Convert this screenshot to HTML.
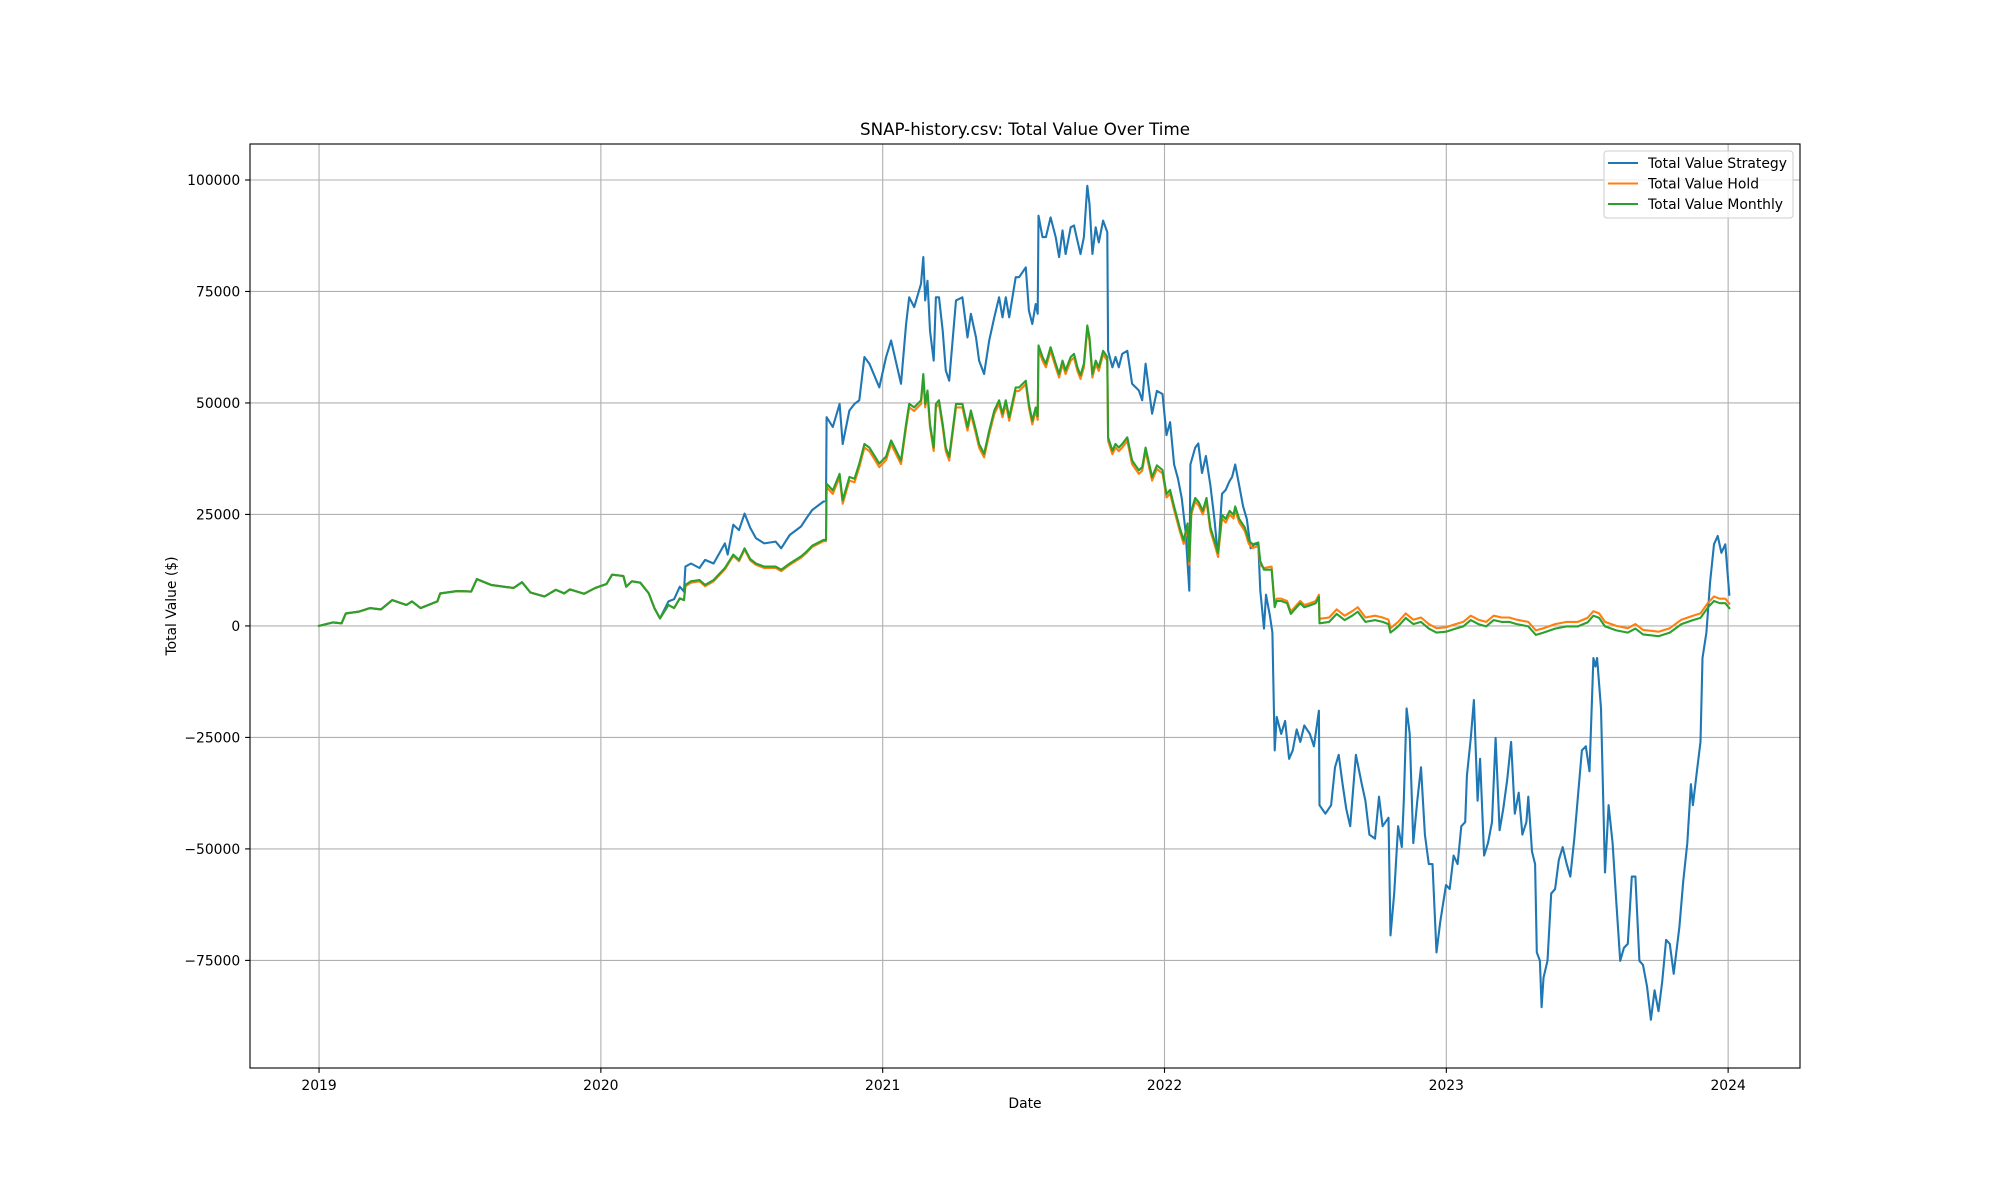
<!DOCTYPE html>
<html><head><meta charset="utf-8"><style>
html,body{margin:0;padding:0;background:#fff;}
svg{display:block;font-family:"DejaVu Sans","Liberation Sans",sans-serif;}
</style></head><body>
<svg id="chart" width="2000" height="1200" viewBox="0 0 2000 1200" xmlns="http://www.w3.org/2000/svg">
<rect x="0" y="0" width="2000" height="1200" fill="#fff"/>
<g id="grid"></g>
<g id="series"></g>
<rect x="250" y="144" width="1550" height="924" fill="none" stroke="#000" stroke-width="1.1"/>
<g id="ticks"></g>
<text x="1025" y="135" font-size="16.7" text-anchor="middle">SNAP-history.csv: Total Value Over Time</text>
<text x="1025" y="1108" font-size="13.9" text-anchor="middle">Date</text>
<text x="176" y="606" font-size="13.9" text-anchor="middle" transform="rotate(-90 176 606)">Total Value ($)</text>
<g>
<rect x="1604" y="151" width="189" height="67" rx="3" fill="#fff" fill-opacity="0.8" stroke="#ccc" stroke-width="1"/>
<g><line x1="1608" y1="163" x2="1638" y2="163" stroke="#1f77b4" stroke-width="2.1"/><text x="1648" y="168" font-size="13.9">Total Value Strategy</text></g>
<g><line x1="1608" y1="183.5" x2="1638" y2="183.5" stroke="#ff7f0e" stroke-width="2.1"/><text x="1648" y="188.5" font-size="13.9">Total Value Hold</text></g>
<g><line x1="1608" y1="204" x2="1638" y2="204" stroke="#2ca02c" stroke-width="2.1"/><text x="1648" y="209" font-size="13.9">Total Value Monthly</text></g>
</g>
</svg>
<script>
const xTickLabels = ["2019","2020","2021","2022","2023","2024"];
const xTickValues = [2019,2020,2021,2022,2023,2024];
const yTickValues = [-75000,-50000,-25000,0,25000,50000,75000,100000];
const yTickLabels = ["\u221275000","\u221250000","\u221225000","0","25000","50000","75000","100000"];

const monthlyDates = [2019.0,2019.05,2019.08,2019.095,2019.14,2019.18,2019.22,2019.26,2019.31,2019.33,2019.36,2019.42,2019.43,2019.49,2019.54,2019.56,2019.61,2019.69,2019.72,2019.75,2019.80,2019.84,2019.87,2019.89,2019.94,2019.98,2020.02,2020.04,2020.08,2020.09,2020.11,2020.14,2020.17,2020.19,2020.21,2020.24,2020.26,2020.28,2020.295,2020.30,2020.32,2020.35,2020.37,2020.40,2020.44,2020.47,2020.49,2020.51,2020.53,2020.55,2020.58,2020.62,2020.64,2020.67,2020.71,2020.73,2020.75,2020.79,2020.799,2020.801,2020.823,2020.847,2020.858,2020.882,2020.90,2020.917,2020.935,2020.953,2020.988,2021.012,2021.03,2021.065,2021.083,2021.094,2021.112,2021.136,2021.144,2021.151,2021.159,2021.168,2021.181,2021.189,2021.20,2021.213,2021.224,2021.236,2021.26,2021.283,2021.301,2021.313,2021.331,2021.342,2021.36,2021.378,2021.396,2021.413,2021.425,2021.437,2021.449,2021.472,2021.484,2021.508,2021.519,2021.531,2021.543,2021.550,2021.553,2021.567,2021.579,2021.596,2021.614,2021.626,2021.638,2021.649,2021.667,2021.679,2021.691,2021.702,2021.714,2021.726,2021.734,2021.744,2021.756,2021.767,2021.782,2021.797,2021.80,2021.815,2021.826,2021.838,2021.85,2021.868,2021.885,2021.909,2021.921,2021.933,2021.956,2021.973,2021.993,2022.007,2022.02,2022.034,2022.054,2022.068,2022.082,2022.088,2022.095,2022.109,2022.122,2022.136,2022.149,2022.163,2022.177,2022.19,2022.204,2022.217,2022.231,2022.245,2022.251,2022.265,2022.285,2022.299,2022.313,2022.333,2022.34,2022.353,2022.38,2022.391,2022.398,2022.414,2022.435,2022.448,2022.469,2022.482,2022.496,2022.516,2022.537,2022.548,2022.55,2022.584,2022.611,2022.639,2022.666,2022.686,2022.713,2022.747,2022.774,2022.795,2022.802,2022.829,2022.856,2022.883,2022.91,2022.938,2022.965,2022.999,2023.033,2023.06,2023.087,2023.114,2023.141,2023.168,2023.196,2023.223,2023.25,2023.291,2023.318,2023.345,2023.386,2023.427,2023.467,2023.501,2023.522,2023.542,2023.563,2023.603,2023.644,2023.671,2023.698,2023.753,2023.793,2023.834,2023.875,2023.902,2023.929,2023.95,2023.97,2023.99,2024.004];
const monthlyValues = [0,800,600,2800,3200,4000,3700,5800,4700,5500,4000,5500,7300,7800,7700,10500,9200,8500,9800,7500,6600,8100,7300,8200,7200,8500,9400,11500,11200,8800,10000,9700,7300,4000,1700,4700,4000,6200,5800,9200,10000,10300,9200,10300,13000,16000,14800,17400,15000,14000,13300,13300,12600,14000,15600,16700,18000,19300,19300,31900,30400,34100,28200,33400,33000,36400,40800,40000,36400,38000,41600,37100,45300,49800,49000,50600,56500,49800,52800,45300,40000,49800,50600,45300,40000,37900,49800,49800,44600,48300,43800,40800,38600,43800,48300,50600,47600,50600,46800,53500,53500,55000,49800,46000,49000,47000,62900,60300,58800,62500,58800,56500,59500,57300,60300,61000,58000,56200,58800,67400,64700,56500,59500,58000,61700,60300,42300,39300,40800,40000,40800,42300,37100,34900,35600,40000,33400,36000,35000,29600,30500,26800,22100,19200,23000,14500,25800,28700,27700,25800,28700,22100,19200,16400,24900,24000,25800,24900,26800,24000,22100,19200,18300,18700,14500,12600,12600,4200,5600,5600,5100,2700,4200,5100,4200,4600,5100,6500,600,900,2700,1300,2300,3200,900,1300,900,400,-1500,-100,1800,400,900,-600,-1500,-1300,-600,-100,1300,400,-100,1300,900,900,400,-100,-2000,-1500,-600,-100,-100,800,2300,1800,-100,-1000,-1500,-600,-1900,-2300,-1500,400,1300,1800,4200,5600,5100,5100,4000];

const holdDates = [2019.0,2019.05,2019.08,2019.095,2019.14,2019.18,2019.22,2019.26,2019.31,2019.33,2019.36,2019.42,2019.43,2019.49,2019.54,2019.56,2019.61,2019.69,2019.72,2019.75,2019.80,2019.84,2019.87,2019.89,2019.94,2019.98,2020.02,2020.04,2020.08,2020.09,2020.11,2020.14,2020.17,2020.19,2020.21,2020.24,2020.26,2020.28,2020.295,2020.30,2020.32,2020.35,2020.37,2020.40,2020.44,2020.47,2020.49,2020.51,2020.53,2020.55,2020.58,2020.62,2020.64,2020.67,2020.71,2020.73,2020.75,2020.79,2020.799,2020.801,2020.823,2020.847,2020.858,2020.882,2020.90,2020.917,2020.935,2020.953,2020.988,2021.012,2021.03,2021.065,2021.083,2021.094,2021.112,2021.136,2021.144,2021.151,2021.159,2021.168,2021.181,2021.189,2021.20,2021.213,2021.224,2021.236,2021.26,2021.283,2021.301,2021.313,2021.331,2021.342,2021.36,2021.378,2021.396,2021.413,2021.425,2021.437,2021.449,2021.472,2021.484,2021.508,2021.519,2021.531,2021.543,2021.550,2021.553,2021.567,2021.579,2021.596,2021.614,2021.626,2021.638,2021.649,2021.667,2021.679,2021.691,2021.702,2021.714,2021.726,2021.734,2021.744,2021.756,2021.767,2021.782,2021.797,2021.80,2021.815,2021.826,2021.838,2021.85,2021.868,2021.885,2021.909,2021.921,2021.933,2021.956,2021.973,2021.993,2022.007,2022.02,2022.034,2022.054,2022.068,2022.082,2022.088,2022.095,2022.109,2022.122,2022.136,2022.149,2022.163,2022.177,2022.19,2022.204,2022.217,2022.231,2022.245,2022.251,2022.265,2022.285,2022.299,2022.313,2022.333,2022.34,2022.353,2022.38,2022.391,2022.398,2022.414,2022.435,2022.448,2022.469,2022.482,2022.496,2022.516,2022.537,2022.548,2022.55,2022.584,2022.611,2022.639,2022.666,2022.686,2022.713,2022.747,2022.774,2022.795,2022.802,2022.829,2022.856,2022.883,2022.91,2022.938,2022.965,2022.999,2023.033,2023.06,2023.087,2023.114,2023.141,2023.168,2023.196,2023.223,2023.25,2023.291,2023.318,2023.345,2023.386,2023.427,2023.467,2023.501,2023.522,2023.542,2023.563,2023.603,2023.644,2023.671,2023.698,2023.753,2023.793,2023.834,2023.875,2023.902,2023.929,2023.95,2023.97,2023.99,2024.004];
const holdValues = [0,800,600,2800,3200,4000,3700,5800,4700,5500,4000,5500,7300,7800,7700,10500,9200,8500,9800,7500,6600,8100,7300,8200,7200,8500,9400,11500,11200,8800,10000,9700,7300,4000,1700,4700,4000,6200,5800,8900,9700,10000,8900,10000,12700,15700,14500,17100,14700,13700,13000,13000,12300,13700,15300,16400,17700,19000,19000,31100,29600,33300,27400,32600,32200,35600,40000,39200,35600,37200,40800,36300,44500,49000,48200,49800,55700,49000,52000,44500,39200,49000,49800,44500,39200,37100,49000,49000,43800,47500,43000,40000,37800,43000,47500,49800,46800,49800,46000,52700,52700,54200,49000,45200,48200,46200,62100,59500,58000,61700,58000,55700,58700,56500,59500,60200,57200,55400,58000,66600,63900,55700,58700,57200,60900,59500,41500,38500,40000,39200,40000,41500,36300,34100,34800,39200,32600,35200,34200,28800,29700,26000,21300,18400,22200,13700,25000,27900,26900,25000,27900,21300,18400,15600,24100,23200,25000,24100,26000,23200,21300,18400,17500,17900,13700,13000,13300,4700,6100,6100,5600,3200,4700,5600,4700,5100,5600,7000,1600,1900,3700,2300,3300,4200,1900,2300,1900,1400,-500,900,2800,1400,1900,400,-500,-300,400,900,2300,1400,900,2300,1900,1900,1400,900,-1000,-500,400,900,900,1800,3300,2800,900,0,-500,400,-900,-1300,-500,1400,2300,2800,5200,6600,6100,6100,5000];

const strategyDates = [2019.0,2019.05,2019.08,2019.095,2019.14,2019.18,2019.22,2019.26,2019.31,2019.33,2019.36,2019.42,2019.43,2019.49,2019.54,2019.56,2019.61,2019.69,2019.72,2019.75,2019.80,2019.84,2019.87,2019.89,2019.94,2019.98,2020.02,2020.04,2020.08,2020.09,2020.11,2020.14,2020.17,2020.19,2020.21,2020.24,2020.26,2020.28,2020.295,2020.30,2020.32,2020.35,2020.37,2020.40,2020.44,2020.45,2020.47,2020.49,2020.51,2020.53,2020.55,2020.58,2020.62,2020.64,2020.67,2020.71,2020.73,2020.75,2020.79,2020.799,2020.801,2020.823,2020.847,2020.858,2020.882,2020.90,2020.917,2020.935,2020.953,2020.988,2021.012,2021.03,2021.065,2021.083,2021.094,2021.112,2021.136,2021.144,2021.151,2021.159,2021.168,2021.181,2021.189,2021.20,2021.213,2021.224,2021.236,2021.26,2021.283,2021.301,2021.313,2021.331,2021.342,2021.36,2021.378,2021.396,2021.413,2021.425,2021.437,2021.449,2021.472,2021.484,2021.508,2021.519,2021.531,2021.543,2021.550,2021.553,2021.567,2021.579,2021.596,2021.614,2021.626,2021.638,2021.649,2021.667,2021.679,2021.691,2021.702,2021.714,2021.726,2021.734,2021.744,2021.756,2021.767,2021.782,2021.797,2021.80,2021.815,2021.826,2021.838,2021.85,2021.868,2021.885,2021.909,2021.921,2021.933,2021.956,2021.973,2021.993,2022.007,2022.02,2022.034,2022.048,2022.061,2022.075,2022.088,2022.092,2022.109,2022.12,2022.133,2022.147,2022.163,2022.177,2022.19,2022.204,2022.217,2022.231,2022.24,2022.251,2022.265,2022.279,2022.292,2022.306,2022.319,2022.333,2022.34,2022.353,2022.36,2022.374,2022.383,2022.391,2022.398,2022.414,2022.428,2022.442,2022.455,2022.469,2022.482,2022.496,2022.516,2022.53,2022.548,2022.55,2022.571,2022.591,2022.605,2022.618,2022.632,2022.645,2022.659,2022.679,2022.7,2022.713,2022.727,2022.747,2022.761,2022.774,2022.795,2022.802,2022.815,2022.829,2022.842,2022.849,2022.859,2022.87,2022.883,2022.897,2022.91,2022.924,2022.938,2022.951,2022.965,2022.978,2022.999,2023.012,2023.026,2023.04,2023.053,2023.067,2023.073,2023.087,2023.098,2023.111,2023.12,2023.134,2023.148,2023.162,2023.175,2023.189,2023.202,2023.216,2023.23,2023.243,2023.257,2023.27,2023.284,2023.291,2023.304,2023.315,2023.321,2023.332,2023.338,2023.345,2023.359,2023.372,2023.386,2023.399,2023.413,2023.427,2023.44,2023.454,2023.467,2023.481,2023.495,2023.508,2023.522,2023.529,2023.535,2023.549,2023.563,2023.576,2023.59,2023.603,2023.617,2023.63,2023.644,2023.658,2023.671,2023.685,2023.698,2023.712,2023.726,2023.739,2023.753,2023.766,2023.78,2023.793,2023.807,2023.827,2023.841,2023.855,2023.868,2023.875,2023.889,2023.902,2023.909,2023.923,2023.936,2023.95,2023.963,2023.976,2023.99,2024.004];
const strategyValues = [0,800,600,2800,3200,4000,3700,5800,4700,5500,4000,5500,7300,7800,7700,10500,9200,8500,9800,7500,6600,8100,7300,8200,7200,8500,9400,11500,11200,8800,10000,9700,7300,4000,1700,5500,6000,8800,7700,13300,14000,13000,14800,14000,18500,16000,22700,21500,25200,22000,19700,18500,18900,17400,20400,22300,24200,26000,27900,28000,46800,44600,49800,40800,48300,49800,50600,60300,58800,53500,60300,64000,54300,67700,73700,71500,76700,82700,73000,77400,66200,59500,73700,73700,66200,57300,55000,73000,73700,64700,70000,64700,59500,56500,64000,69200,73700,69200,73700,69200,78200,78200,80400,70700,67700,72200,70000,92000,87200,87200,91600,87200,82700,88700,83400,89400,89800,86400,83400,87200,98700,94600,83400,89400,86000,90900,88300,61700,58000,60300,58000,61000,61700,54300,52800,50600,58800,47600,52700,52000,42800,45700,36200,33000,28700,21100,7900,36200,40000,40900,34300,38100,31500,24000,15500,29600,30500,32500,33400,36200,31500,26800,24000,17400,18300,18300,7900,-600,7000,2300,-1500,-27900,-20400,-24200,-21300,-29800,-27900,-23200,-26000,-22300,-24200,-27000,-19000,-40200,-42100,-40200,-31700,-28900,-35500,-41100,-44900,-28900,-35500,-39200,-46800,-47700,-38300,-44900,-43000,-69400,-60000,-44900,-49600,-39200,-18500,-24200,-48700,-39200,-31700,-46800,-53400,-53400,-73200,-66600,-58100,-59000,-51500,-53400,-44900,-44000,-33600,-25100,-16600,-39200,-29800,-51500,-48700,-44000,-25100,-45800,-41100,-34500,-26000,-42100,-37400,-46800,-44000,-38300,-50600,-53400,-73200,-75100,-85500,-78900,-75100,-60000,-59000,-52500,-49600,-53400,-56200,-47700,-38300,-27900,-27000,-32600,-7200,-9100,-7200,-18500,-55300,-40200,-48700,-61900,-75100,-72200,-71300,-56200,-56200,-75100,-76000,-80800,-88300,-81700,-86400,-79800,-70400,-71300,-78000,-67500,-57100,-48700,-35500,-40200,-32600,-26000,-7200,-1500,9800,18300,20200,16400,18300,7000];

const NS = "http://www.w3.org/2000/svg";
const X0 = 250, X1 = 1800, Y0 = 144, Y1 = 1068;
const XMIN = 2018.755, XMAX = 2024.255, YMIN = -99130, YMAX = 108070;
function xs(t){ return X0 + (t - XMIN) / (XMAX - XMIN) * (X1 - X0); }
function ys(v){ return Y1 - (v - YMIN) / (YMAX - YMIN) * (Y1 - Y0); }
function mk(tag, attrs){ const e = document.createElementNS(NS, tag); for (const k in attrs) e.setAttribute(k, attrs[k]); return e; }

const grid = document.getElementById('grid');
const ticks = document.getElementById('ticks');
xTickValues.forEach((t, i) => {
  const x = xs(t);
  const gl = mk('line', {x1:x, y1:Y0, x2:x, y2:Y1, stroke:'#b0b0b0', 'stroke-width':1.1});
  
  
  grid.appendChild(gl);
  const tk = mk('line', {x1:x, y1:Y1, x2:x, y2:Y1+4.9, stroke:'#000', 'stroke-width':1.1});
  
  
  ticks.appendChild(tk);
  const tx = mk('text', {x:x, y:Y1+22, 'font-size':13.9, 'text-anchor':'middle'});
  
  
  tx.textContent = xTickLabels[i];
  ticks.appendChild(tx);
});
yTickValues.forEach((v, i) => {
  const y = ys(v);
  const gl = mk('line', {x1:X0, y1:y, x2:X1, y2:y, stroke:'#b0b0b0', 'stroke-width':1.1});
  
  
  grid.appendChild(gl);
  const tk = mk('line', {x1:X0-4.9, y1:y, x2:X0, y2:y, stroke:'#000', 'stroke-width':1.1});
  
  
  ticks.appendChild(tk);
  const tx = mk('text', {x:X0-9.8, y:y+5, 'font-size':13.9, 'text-anchor':'end'});
  
  
  tx.textContent = yTickLabels[i];
  ticks.appendChild(tx);
});

const series = document.getElementById('series');
function drawLine(dates, vals, color, name){
  const n = Math.min(dates.length, vals.length);
  let d = '';
  for (let i = 0; i < n; i++) d += (i ? 'L' : 'M') + xs(dates[i]).toFixed(1) + ',' + ys(vals[i]).toFixed(1);
  const p = mk('path', {d:d, fill:'none', stroke:color, 'stroke-width':2.1, 'stroke-linejoin':'round', 'stroke-linecap':'square'});
  
  
  series.appendChild(p);
}
drawLine(strategyDates, strategyValues, '#1f77b4', 'strategy-line');
drawLine(holdDates, holdValues, '#ff7f0e', 'hold-line');
drawLine(monthlyDates, monthlyValues, '#2ca02c', 'monthly-line');
</script>
</body></html>
